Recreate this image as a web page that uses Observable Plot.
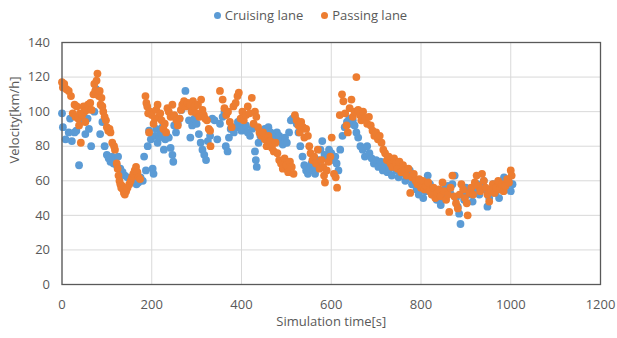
<!DOCTYPE html>
<html>
<head>
<meta charset="utf-8">
<script src="https://cdn.jsdelivr.net/npm/d3@7"></script>
<script src="https://cdn.jsdelivr.net/npm/@observablehq/plot@0.6"></script>
<style>
  html, body { margin: 0; padding: 0; background: #fff; }
  #wrap { width: 617px; height: 338px; position: relative; font-family: "Open Sans", sans-serif; }
  #legend { height: 30px; display: flex; justify-content: center; align-items: center; gap: 18px; padding-left: 4px; font-size: 13px; color: #595959; }
  .item { display: flex; align-items: center; gap: 4px; }
  .sw { width: 7px; height: 7px; border-radius: 50%; display: inline-block; }
</style>
</head>
<body>
<div id="wrap">
  <div id="legend"></div>
  <div id="chart"></div>
</div>
<script>
const seriesNames = ["Cruising lane", "Passing lane"];
const seriesColors = ["#5B9BD5", "#ED7D31"];
const xTicks = [0, 200, 400, 600, 800, 1000, 1200];
const yTicks = [0, 20, 40, 60, 80, 100, 120, 140];
const xTitle = "Simulation time[s]";
const yTitle = "Velocity[km/h]";

// [time (s), velocity (km/h)]
const cruisingLane = [
  [0,99],[2,91],[8,84],[15,88],[18,96],[22,83],[28,88],[32,89],[38,69],[45,95],[52,87],[57,96],[60,90],[65,80],
  [72,100],[76,113],[80,110],[85,87],[90,94],[95,80],[100,75],[104,73],[108,71],[112,74],[115,70],[118,72],[122,69],
  [125,74],[130,67],[135,65],[140,63],[146,62],[152,61],[158,60],[162,63],[166,58],[170,59],[175,62],[180,60],[183,74],
  [187,66],[191,80],[194,89],[198,84],[202,67],[204,64],[207,86],[210,90],[213,82],[217,85],[220,88],[224,91],[227,78],
  [230,84],[234,86],[238,85],[242,79],[246,75],[248,71],[250,92],[254,88],[258,93],[262,96],[266,101],[270,104],[275,112],
  [279,103],[283,95],[286,85],[290,92],[295,96],[300,93],[305,87],[309,82],[313,78],[317,75],[321,72],[325,83],[330,86],
  [335,96],[340,95],[346,84],[352,93],[358,97],[362,100],[365,80],[369,77],[372,85],[376,90],[380,91],[383,88],[388,91],
  [392,94],[397,91],[400,89],[405,90],[410,92],[414,88],[419,86],[424,90],[430,77],[432,72],[434,68],[438,82],[442,86],
  [447,88],[452,90],[456,84],[460,91],[465,88],[470,86],[474,84],[479,88],[484,86],[488,83],[492,81],[497,85],[501,82],
  [506,88],[510,95],[514,96],[519,97],[523,93],[527,88],[531,80],[536,74],[540,69],[544,66],[548,64],[552,67],[556,70],
  [560,66],[564,64],[568,69],[572,72],[576,78],[580,83],[585,75],[590,73],[595,78],[600,76],[605,72],[609,74],[612,70],
  [616,66],[620,78],[625,86],[630,91],[635,94],[640,96],[645,93],[648,95],[652,92],[656,88],[660,85],[665,80],[670,78],
  [675,74],[680,80],[685,76],[690,73],[695,70],[700,72],[705,68],[710,71],[715,66],[720,69],[725,65],[730,67],[735,63],
  [740,68],[745,66],[750,62],[755,65],[760,64],[765,60],[770,62],[775,66],[780,58],[786,61],[790,55],[795,52],[800,57],
  [805,50],[810,54],[815,63],[820,58],[825,52],[830,55],[835,49],[840,53],[844,46],[848,50],[852,55],[856,51],[860,57],
  [865,53],[870,58],[875,63],[878,50],[882,45],[885,41],[888,35],[892,52],[896,49],[900,56],[905,52],[911,54],[915,48],
  [920,55],[925,58],[930,52],[935,57],[940,60],[945,55],[948,45],[952,50],[957,54],[962,58],[966,53],[970,56],[974,50],
  [978,55],[982,59],[985,62],[990,57],[995,60],[1000,54],[1004,58]
];

const passingLane = [
  [0,117],[2,114],[5,116],[10,113],[15,112],[20,109],[24,99],[28,104],[30,97],[33,103],[36,96],[38,92],[40,99],[42,82],
  [45,98],[48,103],[50,100],[52,94],[55,101],[58,104],[60,102],[63,105],[66,101],[70,110],[72,116],[74,112],[77,118],
  [79,122],[82,109],[84,112],[86,104],[88,108],[90,103],[92,100],[95,97],[98,95],[100,91],[103,89],[106,90],[108,88],
  [112,82],[116,80],[118,78],[122,70],[124,67],[126,63],[128,60],[130,58],[132,56],[134,57],[136,55],[138,53],[140,52],
  [143,54],[146,56],[150,58],[153,60],[156,62],[159,64],[162,66],[165,68],[168,65],[171,62],[174,61],[186,109],[188,105],
  [190,103],[192,99],[194,88],[197,100],[200,98],[204,93],[207,96],[210,101],[213,104],[216,97],[219,99],[222,95],[226,90],
  [229,93],[232,88],[235,102],[238,100],[242,97],[246,104],[250,98],[255,95],[258,92],[262,96],[265,101],[268,104],
  [272,106],[276,103],[280,105],[285,104],[289,100],[292,106],[296,103],[300,99],[303,104],[306,97],[310,107],[313,101],
  [316,98],[319,96],[323,95],[327,90],[330,89],[331,80],[352,112],[358,107],[362,102],[366,98],[370,100],[374,94],
  [378,91],[382,103],[387,105],[391,109],[394,111],[398,96],[402,100],[405,95],[410,98],[414,103],[418,99],[423,108],
  [427,93],[430,100],[433,97],[437,91],[440,88],[444,86],[448,88],[452,84],[456,80],[460,86],[464,83],[468,79],[472,77],
  [476,82],[480,76],[484,72],[488,70],[492,67],[496,73],[500,69],[504,65],[508,71],[512,68],[516,64],[519,98],[523,95],
  [527,92],[530,88],[533,94],[537,91],[540,85],[544,90],[548,86],[551,80],[554,76],[558,72],[562,74],[566,70],[570,78],
  [574,67],[578,72],[582,68],[584,63],[586,59],[590,66],[594,71],[598,74],[601,85],[606,64],[610,62],[613,56],[619,98],
  [624,110],[627,106],[631,99],[634,92],[637,88],[641,102],[645,107],[648,97],[652,100],[656,120],[660,101],[664,98],
  [667,95],[671,100],[675,96],[680,93],[684,97],[688,92],[692,89],[696,86],[700,88],[704,84],[708,86],[712,82],[716,78],
  [720,76],[724,72],[728,74],[732,70],[736,68],[740,73],[744,70],[748,67],[752,71],[756,65],[760,69],[764,66],[768,63],
  [772,67],[776,53],[780,62],[784,64],[788,60],[792,58],[796,61],[800,56],[804,60],[808,55],[812,57],[816,59],[820,54],
  [824,52],[828,56],[832,50],[836,53],[840,55],[844,51],[848,59],[852,54],[856,49],[860,52],[863,42],[866,56],[870,63],
  [874,51],[878,47],[882,44],[886,52],[890,58],[894,55],[898,50],[902,47],[904,40],[908,53],[912,56],[916,52],[920,59],
  [924,63],[928,57],[932,54],[936,64],[940,60],[944,56],[948,52],[952,48],[956,55],[960,58],[964,53],[968,56],[972,60],
  [976,55],[980,58],[984,54],[988,57],[992,61],[996,59],[1000,66],[1002,63]
];

// legend
const legend = document.getElementById("legend");
seriesNames.forEach((name, i) => {
  const item = document.createElement("span");
  item.className = "item";
  const sw = document.createElement("span");
  sw.className = "sw";
  sw.style.background = seriesColors[i];
  const label = document.createElement("span");
  label.textContent = name;
  item.appendChild(sw);
  item.appendChild(label);
  legend.appendChild(item);
});

const chart = Plot.plot({
  width: 617,
  height: 308,
  marginLeft: 61.5,
  marginRight: 17,
  marginTop: 12,
  marginBottom: 54,
  style: { fontFamily: "Open Sans, sans-serif", fontSize: "13px", color: "#595959", background: "#fff" },
  x: { domain: [0, 1200], ticks: xTicks, label: null },
  y: { domain: [0, 140], ticks: yTicks, label: null },
  marks: [
    Plot.gridX(xTicks, { stroke: "#d9d9d9", strokeOpacity: 1, strokeWidth: 1 }),
    Plot.gridY(yTicks, { stroke: "#d9d9d9", strokeOpacity: 1, strokeWidth: 1 }),
    Plot.axisX(xTicks, { tickSize: 0, tickPadding: 15, fill: "#595959", fontSize: 13, tickFormat: d => String(d) }),
    Plot.axisY(yTicks, { tickSize: 0, tickPadding: 12, fill: "#595959", fontSize: 13, tickFormat: d => String(d) }),
    Plot.dot(cruisingLane, { x: d => d[0], y: d => d[1], r: 3.9, fill: seriesColors[0], stroke: null }),
    Plot.dot(passingLane, { x: d => d[0], y: d => d[1], r: 3.9, fill: seriesColors[1], stroke: null }),
    Plot.frame({ stroke: "#595959", strokeWidth: 1.3 }),
    Plot.text([xTitle], { frameAnchor: "bottom", dy: 41, fill: "#595959", fontSize: 13 }),
    Plot.text([yTitle], { frameAnchor: "left", dx: -47, rotate: -90, fill: "#595959", fontSize: 13 })
  ]
});
document.getElementById("chart").appendChild(chart);
</script>
</body>
</html>
